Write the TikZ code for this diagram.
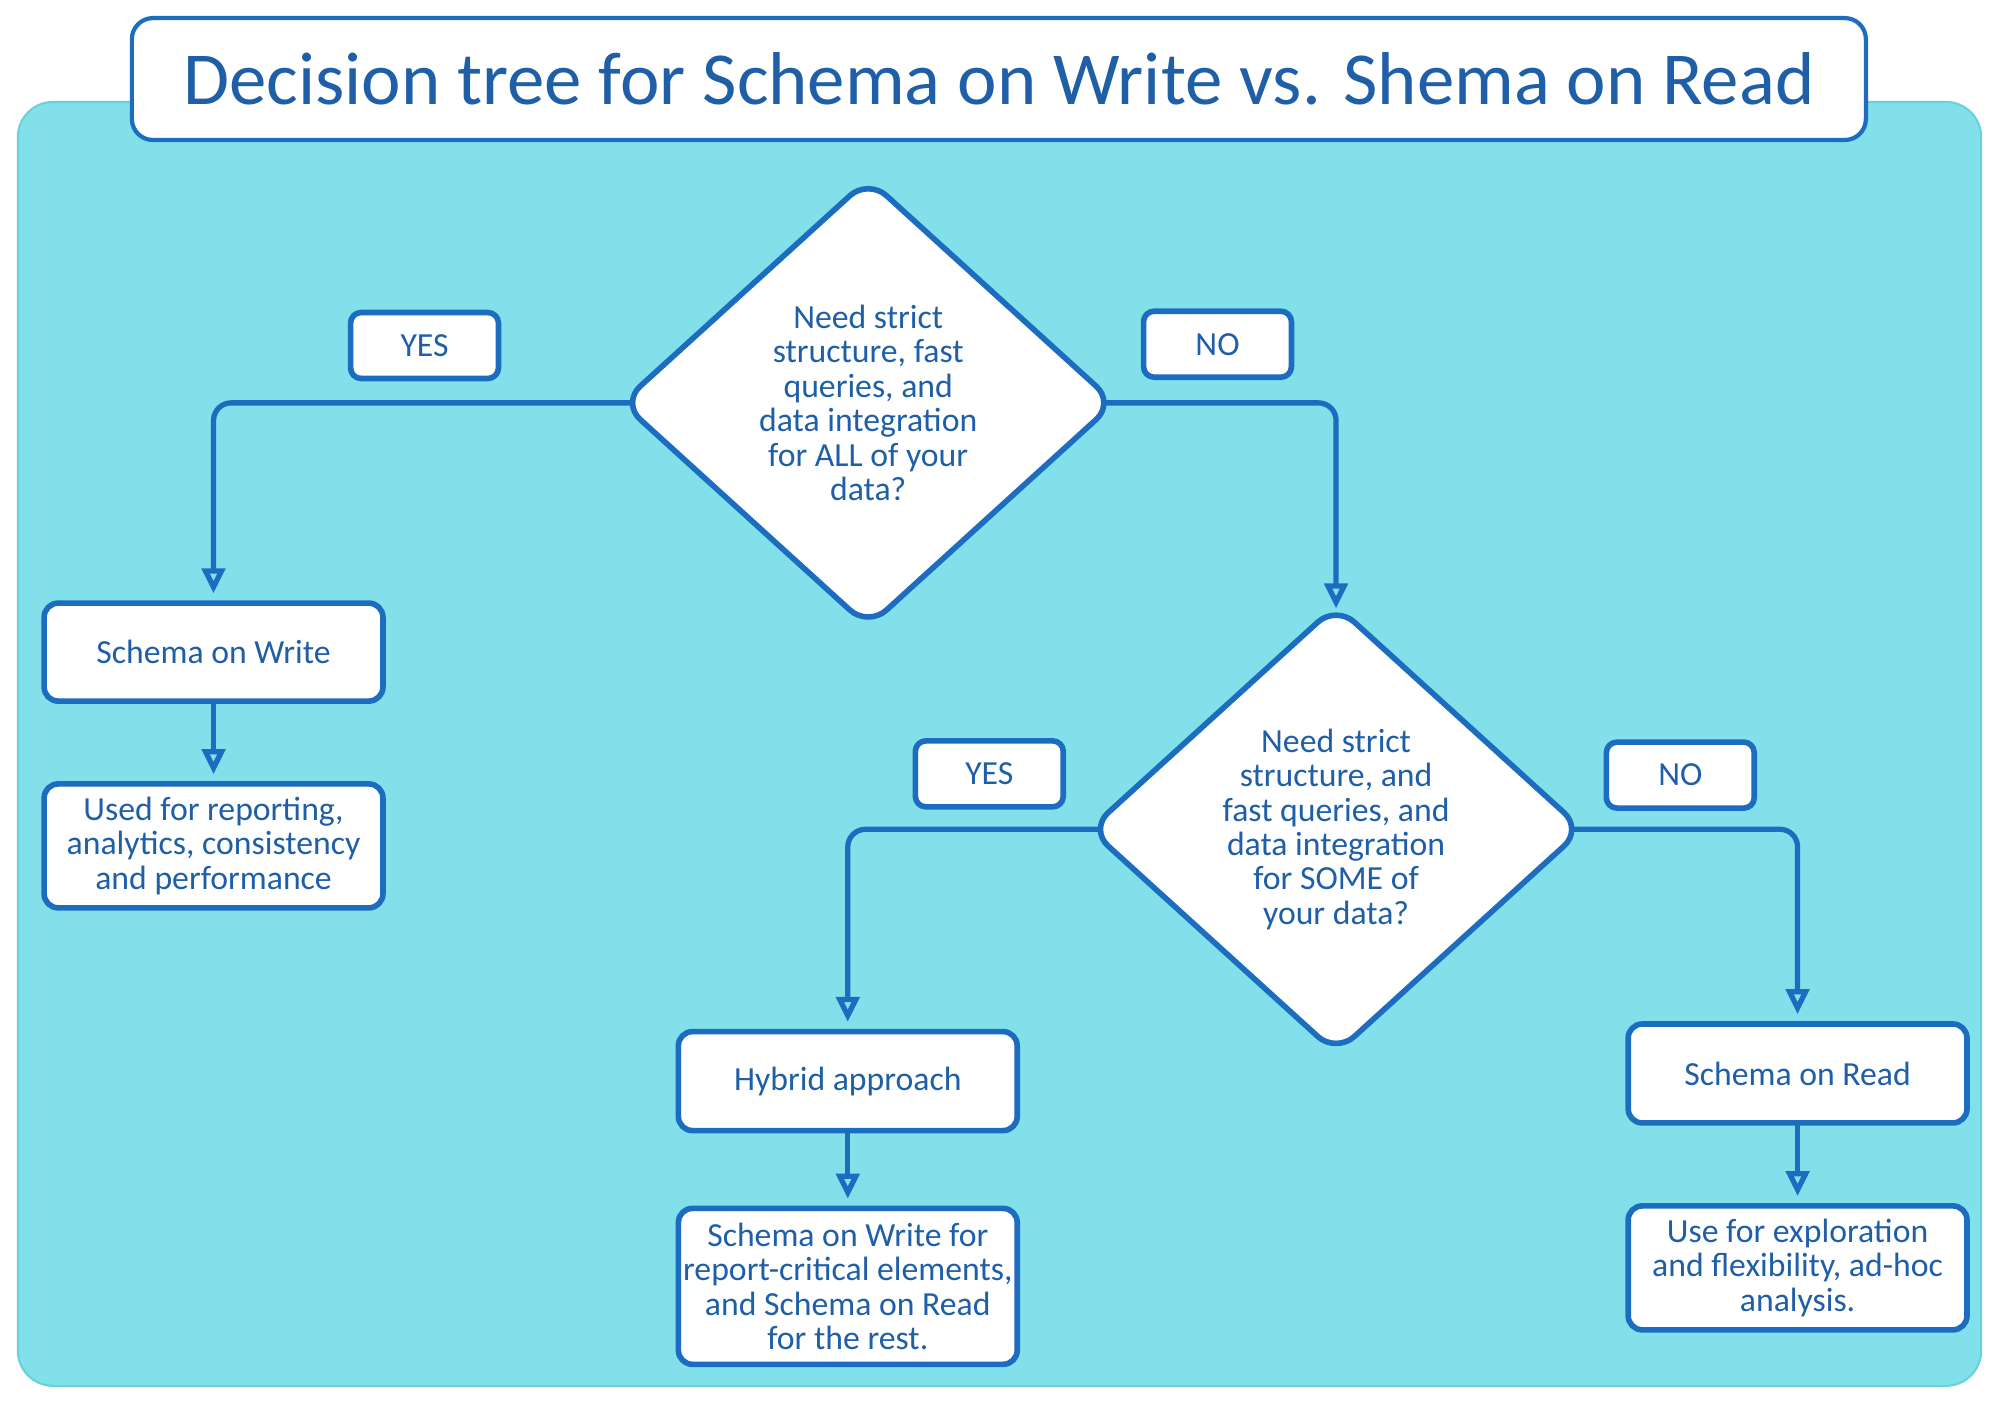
\documentclass[tikz,border=0pt]{standalone}
\usepackage{fontspec}
\setmainfont{Carlito}
\usetikzlibrary{shapes.geometric,arrows.meta}
\definecolor{sea}{HTML}{82E0EB}
\definecolor{seaedge}{HTML}{6CCFDC}
\definecolor{ink}{HTML}{1C6DC0}
\definecolor{inktext}{HTML}{1E5FA8}
\begin{document}
\begin{tikzpicture}[x=0.01275cm,y=-0.01275cm,line join=round,line cap=round,
	font=\fontsize{9.6}{9.8}\selectfont,text=inktext,
	box/.style={draw=ink,fill=white,line width=1.6pt,rounded corners=4pt,align=center,
		minimum width=3.39cm,inner sep=1pt},
	tag/.style={draw=ink,fill=white,line width=1.6pt,rounded corners=3pt,
		minimum width=1.48cm,minimum height=0.66cm,inner sep=0pt},
	decision/.style={diamond,draw=ink,fill=white,line width=1.6pt,rounded corners=7pt,
		minimum width=4.87cm,minimum height=4.42cm,inner sep=0pt,outer sep=-2pt},
	flow/.style={draw=ink,line width=1.5pt,rounded corners=5pt,shorten >=2pt,
		-{Triangle[open,length=2.5mm,width=2.3mm]}}]
	\useasboundingbox (0,0) rectangle (1568,1101);
	% background and title
	\fill[sea,draw=seaedge,line width=0.6pt,rounded corners=10pt] (14,80) rectangle (1554,1087);
	\node[draw=ink,fill=white,line width=1.2pt,rounded corners=6pt,
		minimum width=17.35cm,minimum height=1.22cm,
		font=\fontsize{21.3}{24}\selectfont] (T) at (783.5,62)
		{Decision tree for Schema on Write vs. Shema on Read};
	% first question
	\node[decision] (Q1) at (681,316) {};
	\node[align=center] (Q1t) at (Q1) {Need strict\\structure, fast\\queries, and\\data integration\\for ALL of your\\data?};
	\node[tag] (Y1) at (333,271) {YES};
	\node[tag] (N1) at (955,270) {NO};
	\node[box,minimum height=0.98cm] (SW) at (167.5,511.5) {Schema on Write};
	\node[box,minimum height=1.24cm] (SWuse) at (167.5,663.5) {Used for reporting,\\analytics, consistency\\and performance};
	% second question
	\node[decision] (Q2) at (1048,650.5) {};
	\node[align=center] (Q2t) at (Q2) {Need strict\\structure, and\\fast queries, and\\data integration\\for SOME of\\your data?};
	\node[tag] (Y2) at (776,607) {YES};
	\node[tag] (N2) at (1318,608) {NO};
	\node[box,minimum height=0.99cm] (HY) at (665,848) {Hybrid approach};
	\node[box,minimum height=1.56cm] (HYuse) at (665,1009) {Schema on Write for\\report-critical elements,\\and Schema on Read\\for the rest.};
	\node[box,minimum height=0.99cm] (SR) at (1410,842) {Schema on Read};
	\node[box,minimum height=1.24cm] (SRuse) at (1410,994.5) {Use for exploration\\and flexibility, ad-hoc\\analysis.};
	% connectors
	\draw[flow] (Q1.west) -| (SW.north);
	\draw[flow] (Q1.east) -| (Q2.north);
	\draw[flow] (SW) -- (SWuse);
	\draw[flow] (Q2.west) -| (HY.north);
	\draw[flow] (Q2.east) -| (SR.north);
	\draw[flow] (HY) -- (HYuse);
	\draw[flow] (SR) -- (SRuse);
\end{tikzpicture}
\end{document}
